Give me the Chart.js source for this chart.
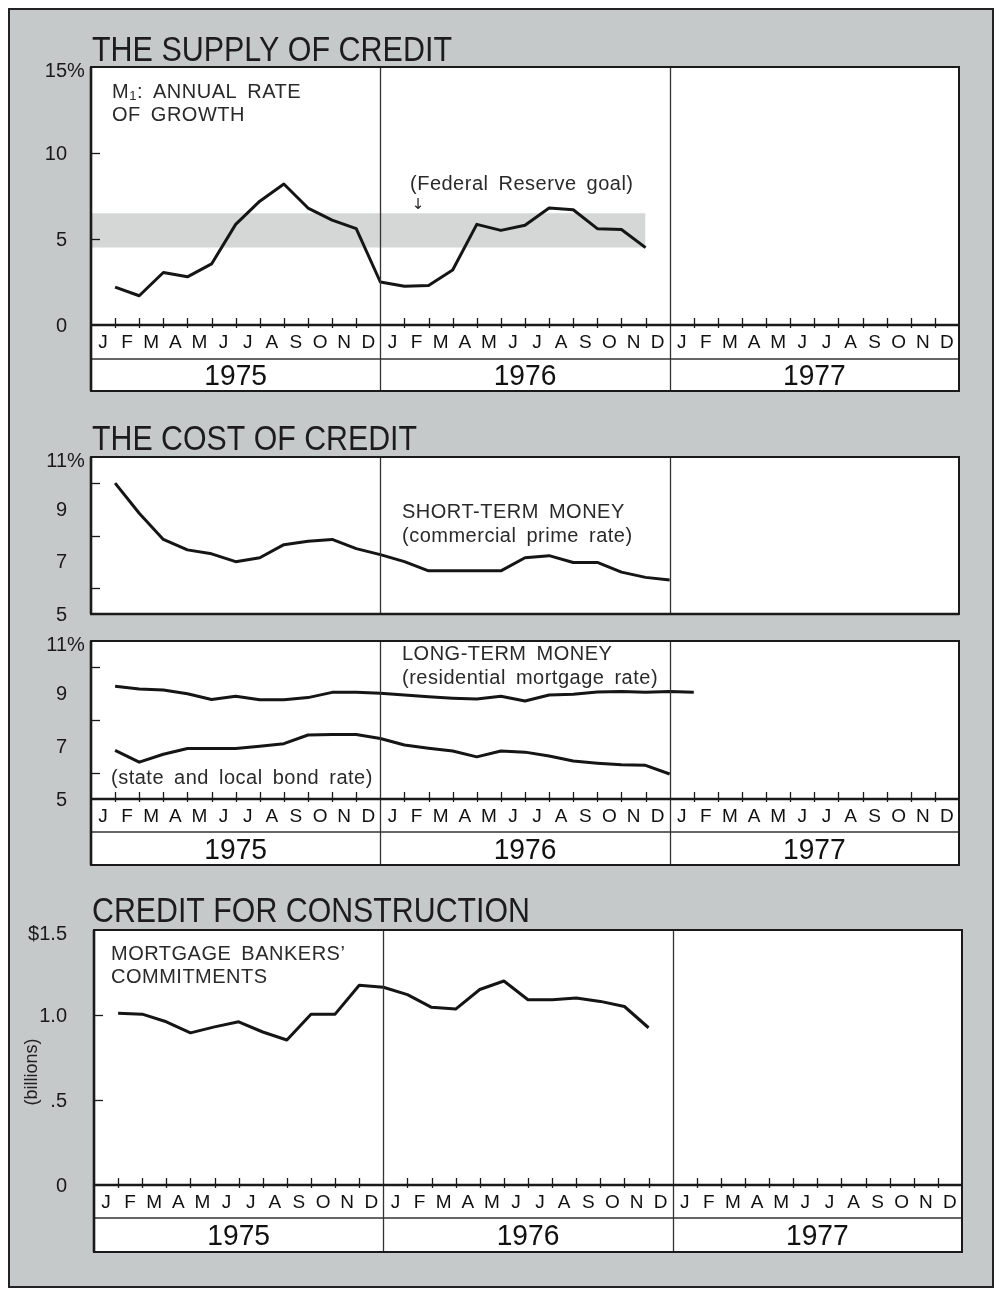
<!DOCTYPE html>
<html>
<head>
<meta charset="utf-8">
<script src="https://cdn.jsdelivr.net/npm/chart.js@4.4.0/dist/chart.umd.min.js"></script>
<style>
  body { margin: 0; width: 1001px; height: 1295px; background: #fff; position: relative; overflow: hidden; }
  #frame { position: absolute; left: 8px; top: 8px; width: 986px; height: 1280px; box-sizing: border-box;
           background: #c6c9ca; border: 2.5px solid #222; }
  canvas { position: absolute; left: 0; top: 0; }
</style>
</head>
<body>
<div id="frame"></div>
<canvas id="supply" width="1001" height="1295"></canvas>
<canvas id="shortTerm" width="1001" height="1295"></canvas>
<canvas id="longTerm" width="1001" height="1295"></canvas>
<canvas id="construction" width="1001" height="1295"></canvas>
<script>
// month letters and years along the bottom
const monthLetters = ['J', 'F', 'M', 'A', 'M', 'J', 'J', 'A', 'S', 'O', 'N', 'D'];
const years = ['1975', '1976', '1977'];

// M1 annual rate of growth, %, Jan 1975 - Nov 1976
const m1Growth = [2.2, 1.7, 3.05, 2.8, 3.55, 5.85, 7.2, 8.2, 6.8, 6.1, 5.6, 2.5,
                  2.25, 2.3, 3.2, 5.85, 5.5, 5.8, 6.8, 6.7, 5.6, 5.55, 4.5];
// Federal Reserve goal band (%), and the months it spans
const fedGoalRange = [4.5, 6.5];
const fedGoalMonths = [0, 23];

// commercial prime rate, %, Jan 1975 - Dec 1976
const primeRate = [10.0, 8.85, 7.85, 7.45, 7.3, 7.0, 7.15, 7.65, 7.78, 7.85, 7.5, 7.27,
                   7.0, 6.65, 6.65, 6.65, 6.65, 7.15, 7.23, 6.97, 6.97, 6.6, 6.4, 6.3];

// residential mortgage rate, %, Jan 1975 - Jan 1977
const mortgageRate = [9.28, 9.18, 9.14, 9.0, 8.78, 8.9, 8.77, 8.77, 8.85, 9.05, 9.05, 9.02,
                      8.95, 8.88, 8.83, 8.8, 8.9, 8.72, 8.95, 8.98, 9.06, 9.08, 9.05, 9.08, 9.05];
// state and local bond rate, %, Jan 1975 - Dec 1976
const bondRate = [6.85, 6.4, 6.7, 6.92, 6.92, 6.92, 7.0, 7.1, 7.43, 7.45, 7.45, 7.3,
                  7.05, 6.93, 6.82, 6.6, 6.82, 6.78, 6.63, 6.44, 6.36, 6.3, 6.28, 5.95];

// mortgage bankers' commitments, $ billions, Jan 1975 - Nov 1976
const commitments = [1.01, 1.005, 0.96, 0.895, 0.93, 0.96, 0.9, 0.853, 1.005, 1.005, 1.175, 1.163,
                     1.12, 1.045, 1.035, 1.15, 1.2, 1.09, 1.09, 1.1, 1.08, 1.05, 0.925];

// y-axis tick labels and small tick marks
const supplyTicks = [0, 5, 10, 15];
const supplyTickLabels = ['0', '5', '10', '15%'];
const supplyMinor = [5, 10];
const rateTicks = [5, 7, 9, 11];
const rateTickLabels = ['5', '7', '9', '11%'];
const rateMinor = [6, 8, 10];
const constructionTicks = [0, 0.5, 1.0, 1.5];
const constructionTickLabels = ['0', '.5', '1.0', '$1.5'];
const constructionMinor = [0.5, 1.0];

const FONT = '"Liberation Sans", Arial, sans-serif';
const INK = '#1a1a1a';

// data points sit at month ends
const toPoints = arr => arr.map((v, i) => ({ x: i + 1, y: v }));

function drawTitle(ctx, t) {
  ctx.save();
  ctx.font = '35px ' + FONT;
  ctx.fillStyle = '#1c1c1c';
  ctx.textAlign = 'left';
  ctx.textBaseline = 'alphabetic';
  const w = ctx.measureText(t.text).width;
  ctx.translate(t.x, t.y);
  ctx.scale(t.width / w, 1);
  ctx.fillText(t.text, 0, 0);
  ctx.restore();
}

function drawNote(ctx, n) {
  ctx.save();
  ctx.fillStyle = '#2a2a2a';
  ctx.textBaseline = 'alphabetic';
  ctx.textAlign = 'left';
  ctx.letterSpacing = '0.5px';
  ctx.wordSpacing = '4px';
  let x = n.x;
  if (n.sub) {
    ctx.font = '20px ' + FONT;
    ctx.fillText(n.text, x, n.y);
    x += ctx.measureText(n.text).width;
    ctx.font = '13px ' + FONT;
    ctx.fillText(n.sub, x, n.y + 2);
    x += ctx.measureText(n.sub).width;
    ctx.font = '20px ' + FONT;
    ctx.fillText(n.rest, x, n.y);
  } else {
    ctx.font = (n.font || '20px ' + FONT);
    ctx.fillText(n.text, x, n.y);
  }
  ctx.restore();
}

const deco = {
  id: 'deco',
  beforeDraw(chart, args, o) {
    const { ctx, chartArea: a } = chart;
    ctx.save();
    ctx.fillStyle = '#fff';
    ctx.fillRect(a.left, a.top, a.right - a.left, o.bottom - a.top);
    ctx.restore();
  },
  afterDatasetsDraw(chart, args, o) {
    const { ctx, chartArea: a, scales: { x, y } } = chart;
    ctx.save();
    // year dividers
    ctx.strokeStyle = '#333';
    ctx.lineWidth = 1.3;
    [12, 24].forEach(m => {
      const px = Math.round(x.getPixelForValue(m)) + 0.5;
      ctx.beginPath(); ctx.moveTo(px, a.top); ctx.lineTo(px, o.bottom); ctx.stroke();
    });
    // row separator between months and years
    if (o.monthBottom) {
      ctx.beginPath(); ctx.moveTo(a.left, o.monthBottom); ctx.lineTo(a.right, o.monthBottom); ctx.stroke();
    }
    // box
    ctx.strokeStyle = INK;
    ctx.lineWidth = 2;
    ctx.strokeRect(a.left, a.top, a.right - a.left, o.bottom - a.top);
    ctx.lineWidth = 2.6;
    ctx.beginPath(); ctx.moveTo(a.left, a.top); ctx.lineTo(a.left, o.bottom); ctx.stroke();
    ctx.beginPath(); ctx.moveTo(a.left - 1, a.bottom); ctx.lineTo(a.right, a.bottom); ctx.stroke();
    // y minor ticks
    ctx.lineWidth = 1.3;
    o.minor.forEach(v => {
      const py = Math.round(y.getPixelForValue(v)) + 0.5;
      ctx.beginPath(); ctx.moveTo(a.left, py); ctx.lineTo(a.left + 9, py); ctx.stroke();
    });
    // month ticks, labels, years
    if (o.monthBottom) {
      for (let m = 1; m < 36; m++) {
        if (m % 12 === 0) continue;
        const px = Math.round(x.getPixelForValue(m)) + 0.5;
        ctx.beginPath(); ctx.moveTo(px, a.bottom - 7); ctx.lineTo(px, a.bottom + 3); ctx.stroke();
      }
      ctx.fillStyle = '#111';
      ctx.font = '19px ' + FONT;
      ctx.textAlign = 'center';
      ctx.textBaseline = 'middle';
      const my = (a.bottom + o.monthBottom) / 2 + 1;
      for (let m = 0; m < 36; m++) {
        ctx.fillText(monthLetters[m % 12], x.getPixelForValue(m + 0.5), my);
      }
      ctx.font = '30px ' + FONT;
      const yy = (o.monthBottom + o.bottom) / 2 + 2;
      years.forEach((yr, i) => {
        ctx.save();
        const cx = x.getPixelForValue(i * 12 + 6);
        ctx.translate(cx, yy);
        ctx.scale(0.94, 1);
        ctx.fillText(yr, 0, 0);
        ctx.restore();
      });
    }
    // y tick labels
    ctx.fillStyle = INK;
    ctx.font = '20px ' + FONT;
    ctx.textBaseline = 'middle';
    o.ticks.forEach((v, i) => {
      let lab = o.tickLabels[i];
      const py = y.getPixelForValue(v) + (i === o.ticks.length - 1 ? 4 : 1);
      ctx.textAlign = 'right';
      if (lab.endsWith('%')) {
        const num = lab.slice(0, -1);
        ctx.fillText(num, o.labelRight, py);
        ctx.textAlign = 'left';
        ctx.fillText('%', o.labelRight, py);
      } else {
        ctx.fillText(lab, o.labelRight, py);
      }
    });
    if (o.title) drawTitle(ctx, o.title);
    (o.notes || []).forEach(n => drawNote(ctx, n));
    if (o.arrow) {
      ctx.fillStyle = '#222';
      ctx.font = '15px "DejaVu Sans"';
      ctx.textAlign = 'center';
      ctx.textBaseline = 'middle';
      ctx.fillText('\u2193', o.arrow.x, o.arrow.y);
    }
    if (o.sideLabel) {
      ctx.save();
      ctx.fillStyle = '#222';
      ctx.font = '18px ' + FONT;
      ctx.translate(o.sideLabel.x, o.sideLabel.y);
      ctx.rotate(-Math.PI / 2);
      ctx.textAlign = 'center';
      ctx.textBaseline = 'middle';
      ctx.fillText(o.sideLabel.text, 0, 0);
      ctx.restore();
    }
    ctx.restore();
  }
};

function lineSet(arr) {
  return { data: toPoints(arr), borderColor: '#151515', borderWidth: 3, fill: false, order: 0,
           pointRadius: 0, tension: 0, borderJoinStyle: 'round', borderCapStyle: 'butt' };
}

function panel(id, box, yMin, yMax, datasets, decoOpts) {
  return new Chart(document.getElementById(id), {
    type: 'line',
    data: { datasets: datasets },
    options: {
      responsive: false,
      animation: false,
      events: [],
      layout: { padding: { left: box.left, right: 1001 - box.right, top: box.top, bottom: 1295 - box.axis } },
      scales: {
        x: { type: 'linear', min: 0, max: 36, display: false },
        y: { type: 'linear', min: yMin, max: yMax, display: false }
      },
      plugins: {
        legend: { display: false },
        tooltip: { enabled: false },
        deco: decoOpts
      }
    },
    plugins: [deco]
  });
}

// THE SUPPLY OF CREDIT
panel('supply', { left: 91, right: 959, top: 67, axis: 325 }, 0, 15, [
  { data: fedGoalMonths.map(m => ({ x: m, y: fedGoalRange[1] })), borderColor: 'transparent', borderWidth: 0,
    pointRadius: 0, fill: false, order: 2 },
  { data: fedGoalMonths.map(m => ({ x: m, y: fedGoalRange[0] })), borderColor: 'transparent', borderWidth: 0,
    pointRadius: 0, fill: '-1', backgroundColor: '#d5d6d6', order: 1 },
  lineSet(m1Growth)
], {
  bottom: 391, monthBottom: 359, labelRight: 67,
  ticks: supplyTicks, tickLabels: supplyTickLabels, minor: supplyMinor,
  title: { text: 'THE SUPPLY OF CREDIT', x: 92, y: 61, width: 360 },
  notes: [
    { text: 'M', sub: '1', rest: ': ANNUAL RATE', x: 112, y: 98 },
    { text: 'OF GROWTH', x: 112, y: 121 },
    { text: '(Federal Reserve goal)', x: 410, y: 190 }
  ],
  arrow: { x: 418, y: 205 }
});

// THE COST OF CREDIT: short-term money
panel('shortTerm', { left: 91, right: 959, top: 457, axis: 614 }, 5, 11, [
  lineSet(primeRate)
], {
  bottom: 614, monthBottom: null, labelRight: 67,
  ticks: rateTicks, tickLabels: rateTickLabels, minor: rateMinor,
  title: { text: 'THE COST OF CREDIT', x: 92, y: 450, width: 325 },
  notes: [
    { text: 'SHORT-TERM MONEY', x: 402, y: 518 },
    { text: '(commercial prime rate)', x: 402, y: 542 }
  ]
});

// long-term money
panel('longTerm', { left: 91, right: 959, top: 641, axis: 799 }, 5, 11, [
  lineSet(mortgageRate),
  lineSet(bondRate)
], {
  bottom: 865, monthBottom: 832, labelRight: 67,
  ticks: rateTicks, tickLabels: rateTickLabels, minor: rateMinor,
  notes: [
    { text: 'LONG-TERM MONEY', x: 402, y: 660 },
    { text: '(residential mortgage rate)', x: 402, y: 684 },
    { text: '(state and local bond rate)', x: 111, y: 784 }
  ]
});

// CREDIT FOR CONSTRUCTION
panel('construction', { left: 94, right: 962, top: 930, axis: 1185 }, 0, 1.5, [
  lineSet(commitments)
], {
  bottom: 1252, monthBottom: 1218, labelRight: 67,
  ticks: constructionTicks, tickLabels: constructionTickLabels, minor: constructionMinor,
  title: { text: 'CREDIT FOR CONSTRUCTION', x: 92, y: 922, width: 438 },
  notes: [
    { text: 'MORTGAGE BANKERS\u2019', x: 111, y: 960 },
    { text: 'COMMITMENTS', x: 111, y: 983 }
  ],
  sideLabel: { text: '(billions)', x: 32, y: 1072 }
});
</script>
</body>
</html>
